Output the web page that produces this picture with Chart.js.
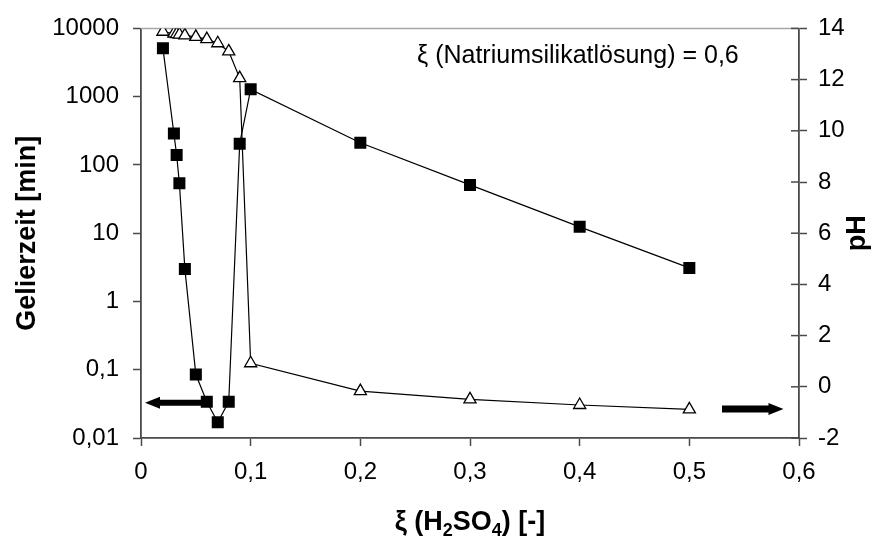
<!DOCTYPE html>
<html><head><meta charset="utf-8">
<script src="https://cdn.jsdelivr.net/npm/chart.js@4.4.0/dist/chart.umd.min.js"></script>
<style>html,body{margin:0;padding:0;background:#fff;}#wrap{width:886px;height:538px;}</style>
</head><body><div id="wrap"><canvas id="c" width="886" height="538"></canvas></div>
<script>
// ---- data ----
const xValues  = [0.02, 0.03, 0.0325, 0.035, 0.04, 0.05, 0.06, 0.07, 0.08, 0.09, 0.1, 0.2, 0.3, 0.4, 0.5];
const gelTime  = [5100, 288, 140, 54, 3.0, 0.085, 0.034, 0.017, 0.034, 205, 1280, 211, 51, 12.4, 3.1];
const pHValues = [13.87, 13.8, 13.78, 13.76, 13.73, 13.67, 13.58, 13.42, 13.1, 12.06, 0.92, -0.17, -0.49, -0.71, -0.88];
const xTicks   = [0, 0.1, 0.2, 0.3, 0.4, 0.5, 0.6];
const gelTicks = [0.01, 0.1, 1, 10, 100, 1000, 10000];
const pHTicks  = [-2, 0, 2, 4, 6, 8, 10, 12, 14];
const annotationText = 'ξ (Natriumsilikatlösung) = 0,6';
const yTitle  = 'Gelierzeit [min]';
const y2Title = 'pH';
const xTitleParts = [['ξ (H', false], ['2', true], ['SO', false], ['4', true], [') [-]', false]];

// ---- styling ----
const FONT = '"Liberation Sans", Arial, Helvetica, sans-serif';
const AXIS = '#4a4a4a';
const fmt = v => String(v).replace('.', ',');

function arrow(ctx, tail, tip, y, shaft, headLen, headH) {
  const dir = tip > tail ? 1 : -1;
  const hb = tip - dir * headLen;
  ctx.beginPath();
  ctx.moveTo(tail, y - shaft / 2);
  ctx.lineTo(hb, y - shaft / 2);
  ctx.lineTo(hb, y - headH / 2);
  ctx.lineTo(tip, y);
  ctx.lineTo(hb, y + headH / 2);
  ctx.lineTo(hb, y + shaft / 2);
  ctx.lineTo(tail, y + shaft / 2);
  ctx.closePath();
  ctx.fill();
}

const decor = {
  id: 'decor',
  beforeDatasetsDraw(chart) {
    const ctx = chart.ctx, a = chart.chartArea;
    ctx.save();
    ctx.strokeStyle = '#a6a6a6'; ctx.lineWidth = 1.5;
    ctx.beginPath(); ctx.moveTo(a.left, a.top); ctx.lineTo(a.right, a.top); ctx.stroke();
    const y2 = chart.scales.y2;
    ctx.strokeStyle = AXIS; ctx.lineWidth = 1.5;
    pHTicks.forEach(v => {
      const py = y2.getPixelForValue(v);
      ctx.beginPath(); ctx.moveTo(a.right - 8, py); ctx.lineTo(a.right, py); ctx.stroke();
    });
    ctx.fillStyle = '#000';
    arrow(ctx, 203, 145, 402.7, 6, 15, 12);
    arrow(ctx, 722, 783.5, 409, 7, 15, 12);
    ctx.restore();
  },
  afterDraw(chart) {
    const ctx = chart.ctx, a = chart.chartArea;
    const cy = (a.top + a.bottom) / 2;
    ctx.save();
    ctx.fillStyle = '#000';
    // annotation
    ctx.font = '25px ' + FONT;
    ctx.textAlign = 'left'; ctx.textBaseline = 'alphabetic';
    ctx.fillText(annotationText, 417, 63);
    // left title
    ctx.font = 'bold 27px ' + FONT;
    ctx.save(); ctx.translate(35, cy); ctx.rotate(-Math.PI / 2);
    ctx.textAlign = 'center'; ctx.fillText(yTitle, 0, 0); ctx.restore();
    // right title
    ctx.save(); ctx.translate(865, cy); ctx.rotate(-Math.PI / 2);
    ctx.textAlign = 'center'; ctx.fillText(y2Title, 0, 0); ctx.restore();
    // x title with subscripts
    const big = 'bold 27px ' + FONT, small = 'bold 18px ' + FONT;
    let total = 0;
    xTitleParts.forEach(([t, sub]) => { ctx.font = sub ? small : big; total += ctx.measureText(t).width; });
    let x = (a.left + a.right) / 2 - total / 2;
    const base = 530;
    ctx.textAlign = 'left';
    xTitleParts.forEach(([t, sub]) => {
      ctx.font = sub ? small : big;
      ctx.fillText(t, x, sub ? base + 6 : base);
      x += ctx.measureText(t).width;
    });
    ctx.restore();
  }
};

const ctx = document.getElementById('c').getContext('2d');
new Chart(ctx, {
  type: 'line',
  data: {
    datasets: [
      {
        label: 'Gelierzeit',
        data: xValues.map((x, i) => ({ x: x, y: gelTime[i] })),
        yAxisID: 'y',
        borderColor: '#000', borderWidth: 1.2,
        pointStyle: 'rect', pointRadius: 8.5, pointBackgroundColor: '#000',
        pointBorderColor: '#000', pointBorderWidth: 0,
        tension: 0, fill: false
      },
      {
        label: 'pH',
        data: xValues.map((x, i) => ({ x: x, y: pHValues[i] })),
        yAxisID: 'y2',
        borderColor: '#000', borderWidth: 1.2,
        pointStyle: 'triangle', pointRadius: 7, pointBackgroundColor: '#fff',
        pointBorderColor: '#000', pointBorderWidth: 1.3,
        tension: 0, fill: false
      }
    ]
  },
  options: {
    responsive: false,
    animation: false,
    devicePixelRatio: 1,
    layout: { padding: { top: 24, left: 0, right: 0, bottom: 0 } },
    plugins: { legend: { display: false }, tooltip: { enabled: false } },
    scales: {
      x: {
        type: 'linear', min: 0, max: 0.6,
        afterBuildTicks: s => { s.ticks = xTicks.map(v => ({ value: v })); },
        afterFit: s => { s.height = 100; },
        ticks: { callback: v => fmt(v), color: '#000', font: { family: FONT, size: 24 }, padding: 12, maxRotation: 0, autoSkip: false },
        grid: { drawOnChartArea: false, drawTicks: true, tickLength: 8, tickColor: AXIS, tickWidth: 1.5 },
        border: { color: AXIS, width: 1.8 }
      },
      y: {
        type: 'logarithmic', position: 'left', min: 0.01, max: 10000,
        afterBuildTicks: s => { s.ticks = gelTicks.map(v => ({ value: v })); },
        afterFit: s => { s.width = 141; },
        ticks: { callback: v => fmt(v), color: '#000', font: { family: FONT, size: 24 }, padding: 14, autoSkip: false },
        grid: { drawOnChartArea: false, drawTicks: true, tickLength: 8, tickColor: AXIS, tickWidth: 1.5 },
        border: { color: AXIS, width: 1.8 }
      },
      y2: {
        type: 'linear', position: 'right', min: -2, max: 14,
        afterBuildTicks: s => { s.ticks = pHTicks.map(v => ({ value: v })); },
        afterFit: s => { s.width = 87; },
        ticks: { callback: v => fmt(v), color: '#000', font: { family: FONT, size: 24 }, padding: 11, autoSkip: false },
        grid: { drawOnChartArea: false, drawTicks: true, tickLength: 8, tickColor: AXIS, tickWidth: 1.5 },
        border: { color: AXIS, width: 1.8 }
      }
    }
  },
  plugins: [decor]
});
</script>
</body></html>
